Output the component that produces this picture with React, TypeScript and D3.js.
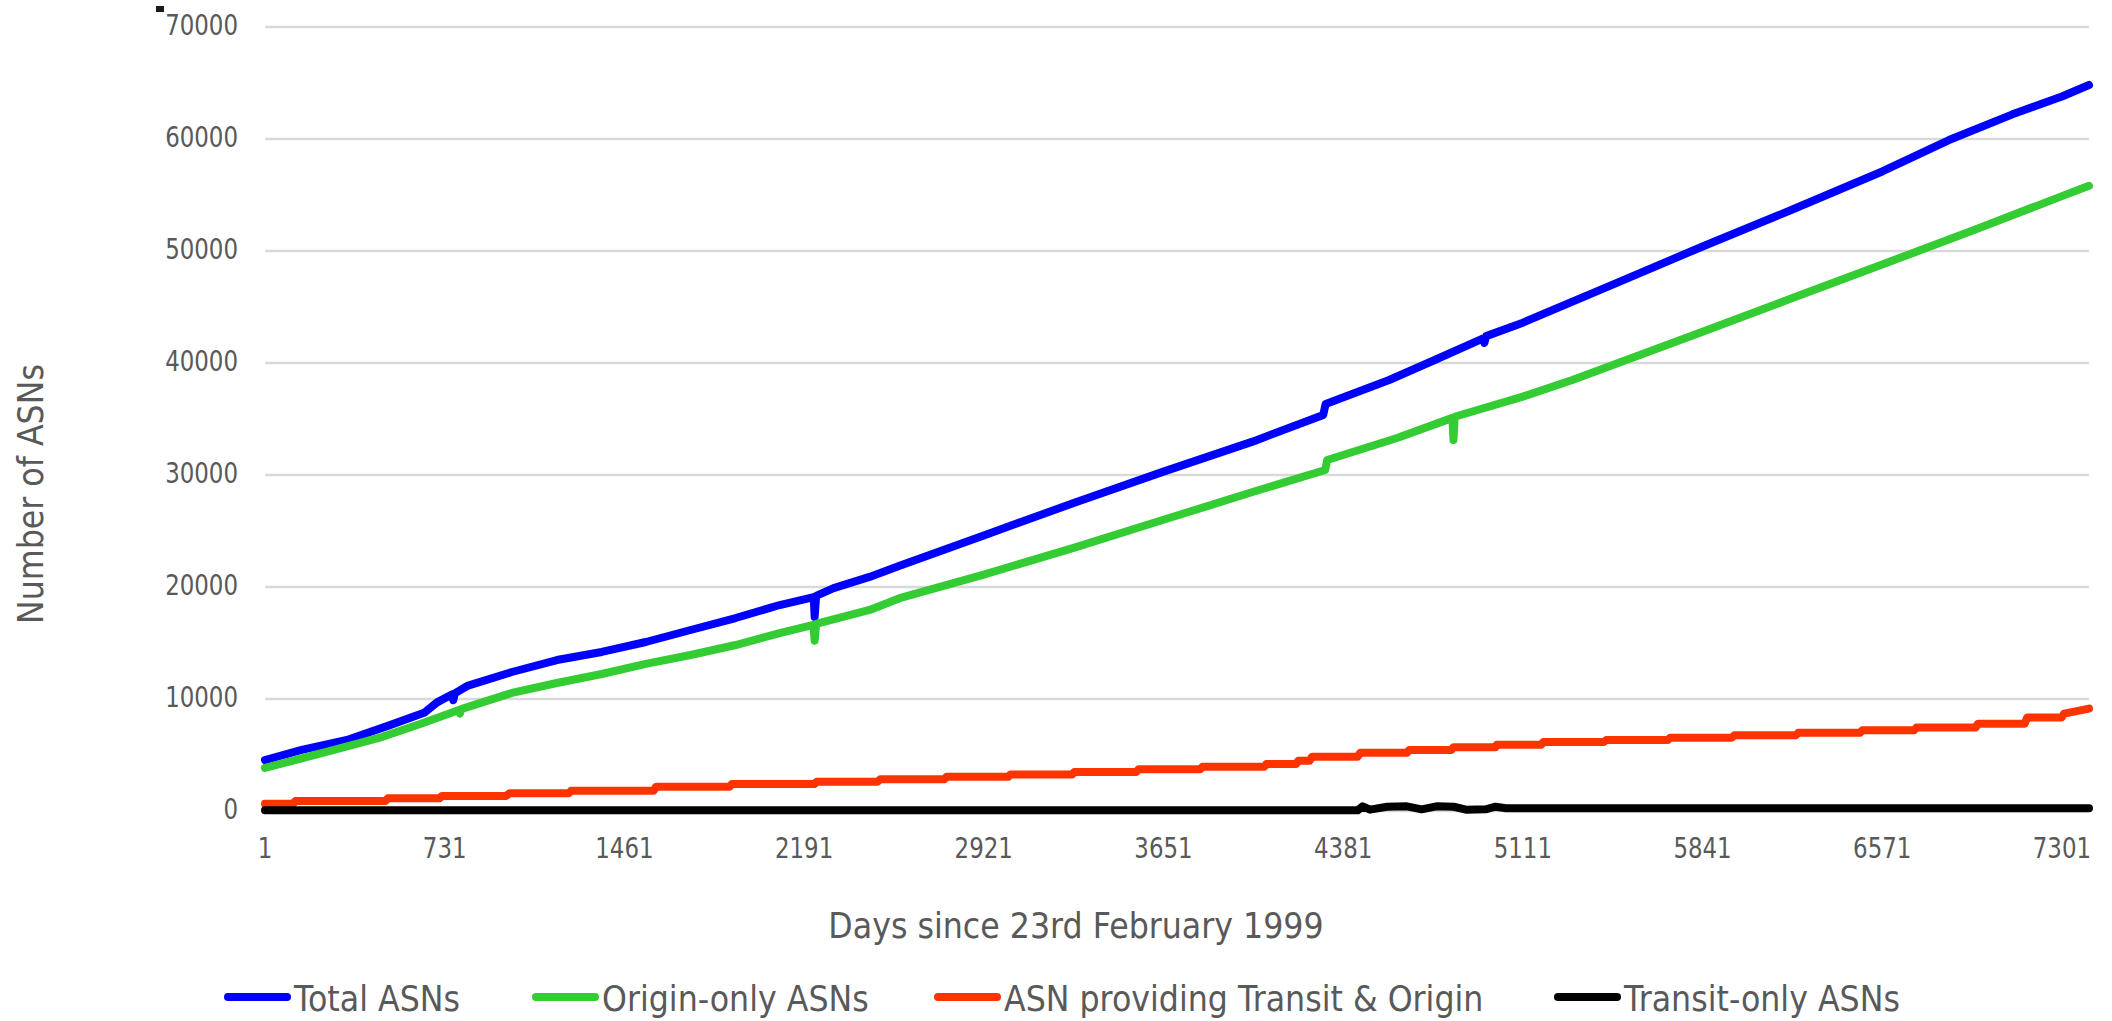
import React from 'react';
import * as d3 from 'd3';

const W = 2112;
const H = 1021;
const margin = { top: 27, right: 23, bottom: 210, left: 265 };

const lastDay = 7411;
const xTickLabels = [1, 731, 1461, 2191, 2921, 3651, 4381, 5111, 5841, 6571, 7301];
const yTicks = [0, 10000, 20000, 30000, 40000, 50000, 60000, 70000];

const seriesNames = ['Total ASNs', 'Origin-only ASNs', 'ASN providing Transit & Origin', 'Transit-only ASNs'];
const seriesColors = ['#0000ff', '#33cc33', '#ff3300', '#000000'];

// [day, value]
const totalAsns: [number, number][] = [
  [1, 4550], [150, 5450], [334, 6340], [500, 7600], [650, 8800], [700, 9700], [760, 10400],
  [766, 9900], [772, 10500], [826, 11200], [1004, 12410], [1187, 13480], [1369, 14200],
  [1548, 15090], [1730, 16160], [1913, 17230], [2092, 18390], [2230, 19100], [2234, 17320],
  [2240, 19200], [2311, 19900], [2457, 20900], [2579, 21900], [2921, 24600], [3286, 27500],
  [3651, 30300], [4016, 33000], [4300, 35360], [4310, 36340], [4568, 38480], [4746, 40200],
  [4950, 42200], [4955, 41800], [4962, 42400], [5111, 43600], [5476, 47000], [5841, 50400],
  [6206, 53700], [6571, 57100], [6842, 59910], [7100, 62200], [7301, 63800], [7411, 64820],
];

const originOnly: [number, number][] = [
  [1, 3840], [281, 5450], [464, 6520], [643, 7860], [789, 9020], [793, 8700], [798, 9100],
  [1004, 10540], [1187, 11430], [1369, 12230], [1548, 13130], [1730, 13930], [1913, 14820],
  [2092, 15890], [2229, 16610], [2234, 15200], [2240, 16700], [2457, 17950], [2579, 19000],
  [2921, 21100], [3286, 23500], [3651, 26000], [4016, 28500], [4308, 30450], [4316, 31340],
  [4600, 33300], [4825, 35100], [4829, 33120], [4834, 35200], [5111, 37000], [5312, 38480],
  [5841, 42800], [6206, 45800], [6571, 48800], [6936, 51800], [7301, 54900], [7411, 55820],
];

const transitAndOrigin: [number, number][] = [
  [1, 650], [115, 650], [125, 890], [490, 890], [500, 1130], [710, 1130], [720, 1340],
  [980, 1340], [995, 1580], [1235, 1580], [1245, 1810], [1580, 1810], [1590, 2170],
  [1888, 2170], [1898, 2410], [2233, 2410], [2243, 2620], [2490, 2620], [2500, 2830],
  [2760, 2830], [2770, 3050], [3020, 3050], [3030, 3270], [3280, 3270], [3290, 3490],
  [3540, 3490], [3550, 3720], [3800, 3720], [3810, 3950], [4060, 3950], [4070, 4200],
  [4190, 4200], [4199, 4490], [4245, 4490], [4255, 4850], [4440, 4850], [4450, 5200],
  [4640, 5200], [4650, 5450], [4820, 5450], [4830, 5690], [5000, 5690], [5005, 5920],
  [5185, 5920], [5195, 6160], [5440, 6160], [5450, 6340], [5700, 6340], [5710, 6550],
  [5960, 6550], [5970, 6760], [6220, 6760], [6230, 6980], [6480, 6980], [6490, 7200],
  [6700, 7200], [6710, 7450], [6950, 7450], [6960, 7800], [7150, 7800], [7160, 8350],
  [7300, 8350], [7310, 8700], [7411, 9140],
];

const transitOnly: [number, number][] = [
  [1, 60], [4440, 60], [4460, 420], [4490, 120], [4560, 380], [4640, 420], [4700, 150],
  [4760, 420], [4830, 380], [4880, 120], [4960, 150], [5000, 380], [5043, 250], [7411, 250],
];

const allSeries = [totalAsns, originOnly, transitAndOrigin, transitOnly];

const legendX = [225, 533, 935, 1555];

const font = '"DejaVu Sans", Verdana, sans-serif';
const grey = '#595959';

const SText = ({ x, y, size, sx = 0.88, anchor = 'start', rotate = 0, children }: any) => (
  <text
    transform={`translate(${x},${y})${rotate ? ` rotate(${rotate})` : ''} scale(${sx},1)`}
    fontSize={size}
    fontFamily={font}
    fill={grey}
    textAnchor={anchor}
  >
    {children}
  </text>
);

export default function App() {
  const x = d3.scaleLinear().domain([1, lastDay]).range([margin.left, W - margin.right]);
  const y = d3.scaleLinear().domain([0, 70000]).range([H - margin.bottom, margin.top]);

  const line = d3.line<[number, number]>()
    .x(d => x(d[0]))
    .y(d => y(d[1]));

  return (
    <svg width={W} height={H} style={{ position: 'absolute', left: 0, top: 0, display: 'block', background: '#fff' }}>
      <rect x={156} y={6} width={8} height={6} fill="#1a1a1a" />

      {/* gridlines */}
      {yTicks.map(t => (
        <line key={t} x1={x(1)} x2={x(lastDay)} y1={y(t)} y2={y(t)} stroke="#d9d9d9" strokeWidth={2.5} />
      ))}

      {/* y tick labels */}
      {yTicks.map(t => (
        <SText key={t} x={238} y={y(t) + 8} size={29} sx={0.79} anchor="end">{t}</SText>
      ))}

      {/* x tick labels */}
      {xTickLabels.map(t => (
        <SText key={t} x={x(t)} y={858} size={29} sx={0.79} anchor="middle">{t}</SText>
      ))}

      {/* series */}
      {allSeries.map((s, i) => (
        <path key={i} d={line(s) || ''} fill="none" stroke={seriesColors[i]} strokeWidth={8}
          strokeLinejoin="round" strokeLinecap="round" />
      ))}

      {/* axis titles */}
      <SText x={1076} y={938} size={36} anchor="middle">Days since 23rd February 1999</SText>
      <SText x={43} y={494} size={36} anchor="middle" rotate={-90}>Number of ASNs</SText>

      {/* legend */}
      {seriesNames.map((n, i) => (
        <g key={n}>
          <line x1={legendX[i] + 3} x2={legendX[i] + 62} y1={997} y2={997} stroke={seriesColors[i]}
            strokeWidth={8} strokeLinecap="round" />
          <SText x={legendX[i] + 69} y={1011} size={36}>{n}</SText>
        </g>
      ))}
    </svg>
  );
}
